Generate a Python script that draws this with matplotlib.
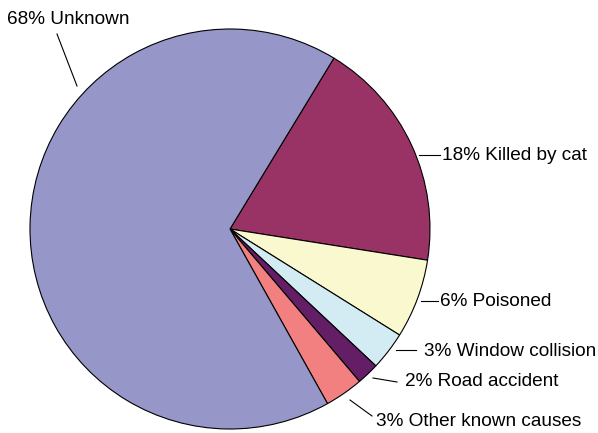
import matplotlib.pyplot as plt

plt.rcParams['font.family'] = ['Liberation Sans', 'DejaVu Sans']

causes = ['Killed by cat', 'Poisoned', 'Window collision', 'Road accident',
          'Other known causes', 'Unknown']
shares = [18.8, 6.4, 3.1, 1.8, 3.1, 66.8]
labels = ['18% Killed by cat', '6% Poisoned', '3% Window collision',
          '2% Road accident', '3% Other known causes', '68% Unknown']
colors = ['#993366', '#FAF8CF', '#D3ECF3', '#631E65', '#F28080', '#9696C8']

# label layout in pixel coords (x, y from top): leader start, leader end, text anchor
leader_a = [(419, 155), (421, 301), (396, 350), (373, 378), (350, 400), (77, 86)]
leader_b = [(440, 155), (438, 301), (416, 350), (397, 382), (372, 416), (57, 34)]
text_pos = [(442, 155), (440, 301), (424, 351), (405, 381), (376, 421), (7, 19)]

W, H = 598, 433
fig = plt.figure(figsize=(W / 100, H / 100), dpi=100)
ax = fig.add_axes([0, 0, 1, 1])

ax.pie(shares, colors=colors, startangle=58.7, counterclock=False,
       radius=200, center=(230, H - 229), frame=True,
       wedgeprops=dict(edgecolor='black', linewidth=0.8))
ax.set_xlim(0, W)
ax.set_ylim(0, H)
ax.set_aspect('equal')
ax.axis('off')

for lab, a, b, t in zip(labels, leader_a, leader_b, text_pos):
    ax.plot([a[0], b[0]], [H - a[1], H - b[1]], color='black', lw=0.8)
    ax.text(t[0], H - t[1], lab, fontsize=13.7, ha='left', va='center')

fig.savefig('out.png', dpi=100)
